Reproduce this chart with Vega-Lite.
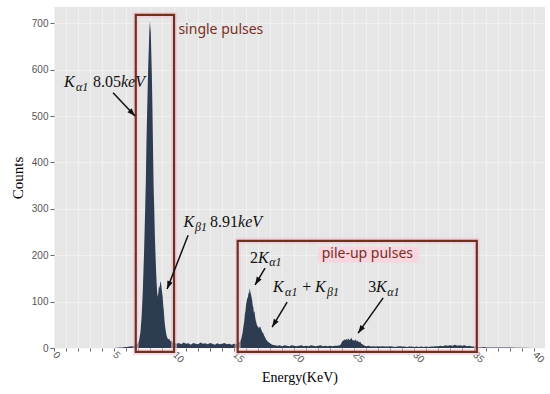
{
 "$schema": "https://vega.github.io/schema/vega-lite/v6.json",
 "width": 491, "height": 341,
 "autosize": {"type": "none"},
 "padding": {"left": 54, "top": 7, "right": 5, "bottom": 46},
 "background": "white",
 "config": {"view": {"fill": "#e6e6e6", "stroke": null}},
 "datasets": {
  "spectrum": [
   {"e":5.0,"c":0},{"e":5.5,"c":1},{"e":5.7,"c":1},{"e":5.9,"c":2},{"e":6.1,"c":2},{"e":6.3,"c":3},{"e":6.5,"c":4},{"e":6.6,"c":3},{"e":6.7,"c":6},{"e":6.8,"c":5},{"e":6.9,"c":8},
   {"e":7.0,"c":11},{"e":7.1,"c":18},{"e":7.2,"c":34},{"e":7.3,"c":68},{"e":7.4,"c":125},{"e":7.5,"c":205},{"e":7.6,"c":305},{"e":7.65,"c":360},{"e":7.7,"c":440},{"e":7.75,"c":500},{"e":7.8,"c":555},{"e":7.85,"c":610},{"e":7.9,"c":648},{"e":7.95,"c":690},{"e":8.0,"c":706},{"e":8.03,"c":680},{"e":8.05,"c":695},{"e":8.1,"c":640},{"e":8.15,"c":590},{"e":8.2,"c":515},{"e":8.25,"c":430},{"e":8.3,"c":345},{"e":8.35,"c":300},{"e":8.4,"c":245},{"e":8.45,"c":205},{"e":8.5,"c":168},{"e":8.55,"c":140},{"e":8.6,"c":118},{"e":8.65,"c":110},{"e":8.7,"c":122},{"e":8.75,"c":135},{"e":8.8,"c":128},{"e":8.85,"c":140},{"e":8.9,"c":144},{"e":8.95,"c":132},{"e":9.0,"c":122},{"e":9.05,"c":110},{"e":9.1,"c":92},{"e":9.15,"c":80},{"e":9.2,"c":60},{"e":9.25,"c":48},{"e":9.3,"c":38},{"e":9.35,"c":30},{"e":9.4,"c":25},{"e":9.5,"c":19},{"e":9.6,"c":20},{"e":9.7,"c":14},{"e":9.8,"c":16},{"e":9.9,"c":11},{"e":10.0,"c":12},
   {"e":10.2,"c":9},{"e":10.4,"c":11},{"e":10.6,"c":8},{"e":10.8,"c":12},{"e":11.0,"c":9},{"e":11.2,"c":10},{"e":11.4,"c":7},{"e":11.6,"c":11},{"e":11.8,"c":9},{"e":12.0,"c":8},{"e":12.2,"c":12},{"e":12.4,"c":9},{"e":12.6,"c":10},{"e":12.8,"c":8},{"e":13.0,"c":11},{"e":13.2,"c":9},{"e":13.4,"c":7},{"e":13.6,"c":10},{"e":13.8,"c":8},{"e":14.0,"c":9},{"e":14.2,"c":11},{"e":14.4,"c":8},{"e":14.6,"c":9},{"e":14.8,"c":7},{"e":15.0,"c":9},{"e":15.2,"c":8},{"e":15.3,"c":10},
   {"e":15.4,"c":12},{"e":15.5,"c":14},{"e":15.6,"c":20},{"e":15.7,"c":32},{"e":15.8,"c":50},{"e":15.85,"c":58},{"e":15.9,"c":74},{"e":15.95,"c":80},{"e":16.0,"c":94},{"e":16.05,"c":100},{"e":16.1,"c":110},{"e":16.15,"c":106},{"e":16.2,"c":120},{"e":16.25,"c":116},{"e":16.3,"c":129},{"e":16.35,"c":122},{"e":16.4,"c":117},{"e":16.45,"c":110},{"e":16.5,"c":104},{"e":16.55,"c":92},{"e":16.6,"c":88},{"e":16.65,"c":76},{"e":16.7,"c":80},{"e":16.75,"c":68},{"e":16.8,"c":60},{"e":16.85,"c":55},{"e":16.9,"c":50},{"e":16.95,"c":46},{"e":17.0,"c":48},{"e":17.05,"c":42},{"e":17.1,"c":45},{"e":17.15,"c":44},{"e":17.2,"c":46},{"e":17.25,"c":40},{"e":17.3,"c":38},{"e":17.35,"c":33},{"e":17.4,"c":34},{"e":17.5,"c":27},{"e":17.6,"c":22},{"e":17.7,"c":17},{"e":17.8,"c":14},{"e":17.9,"c":12},{"e":18.0,"c":10},{"e":18.1,"c":8},
   {"e":18.2,"c":7},{"e":18.4,"c":6},{"e":18.6,"c":5},{"e":18.8,"c":6},{"e":19.0,"c":4},{"e":19.2,"c":6},{"e":19.4,"c":5},{"e":19.6,"c":4},{"e":19.8,"c":6},{"e":20.0,"c":5},{"e":20.2,"c":4},{"e":20.4,"c":5},{"e":20.6,"c":6},{"e":20.8,"c":4},{"e":21.0,"c":5},{"e":21.2,"c":4},{"e":21.4,"c":6},{"e":21.6,"c":5},{"e":21.8,"c":4},{"e":22.0,"c":5},{"e":22.2,"c":6},{"e":22.4,"c":4},{"e":22.6,"c":5},{"e":22.8,"c":4},{"e":23.0,"c":5},{"e":23.2,"c":4},{"e":23.4,"c":5},{"e":23.6,"c":5},{"e":23.8,"c":6},
   {"e":23.9,"c":8},{"e":24.0,"c":14},{"e":24.1,"c":17},{"e":24.15,"c":15},{"e":24.2,"c":19},{"e":24.3,"c":17},{"e":24.4,"c":20},{"e":24.45,"c":16},{"e":24.5,"c":21},{"e":24.6,"c":17},{"e":24.7,"c":19},{"e":24.8,"c":22},{"e":24.85,"c":16},{"e":24.9,"c":18},{"e":25.0,"c":15},{"e":25.1,"c":19},{"e":25.2,"c":14},{"e":25.3,"c":16},{"e":25.4,"c":12},{"e":25.5,"c":14},{"e":25.6,"c":9},{"e":25.7,"c":8},{"e":25.8,"c":6},{"e":25.9,"c":5},
   {"e":26.0,"c":4},{"e":26.2,"c":5},{"e":26.4,"c":3},{"e":26.6,"c":4},{"e":26.8,"c":3},{"e":27.0,"c":4},{"e":27.2,"c":3},{"e":27.4,"c":4},{"e":27.6,"c":3},{"e":27.8,"c":3},{"e":28.0,"c":4},{"e":28.2,"c":3},{"e":28.4,"c":2},{"e":28.6,"c":3},{"e":28.8,"c":4},{"e":29.0,"c":3},{"e":29.2,"c":3},{"e":29.4,"c":2},{"e":29.6,"c":3},{"e":29.8,"c":3},{"e":30.0,"c":2},{"e":30.2,"c":3},{"e":30.4,"c":2},{"e":30.6,"c":3},{"e":30.8,"c":2},{"e":31.0,"c":3},{"e":31.2,"c":2},{"e":31.4,"c":3},{"e":31.6,"c":3},{"e":31.8,"c":4},{"e":32.0,"c":4},{"e":32.2,"c":5},{"e":32.4,"c":4},{"e":32.6,"c":6},{"e":32.8,"c":5},{"e":33.0,"c":6},{"e":33.2,"c":5},{"e":33.4,"c":7},{"e":33.6,"c":5},{"e":33.8,"c":6},{"e":34.0,"c":5},{"e":34.2,"c":6},{"e":34.4,"c":4},{"e":34.6,"c":5},{"e":34.8,"c":3},{"e":35.0,"c":3},{"e":35.2,"c":2},{"e":35.4,"c":2},{"e":35.6,"c":1},{"e":35.8,"c":2},{"e":36.0,"c":1},{"e":36.5,"c":1},{"e":37.0,"c":1},{"e":37.5,"c":1},{"e":38.0,"c":1},{"e":38.5,"c":0.5},{"e":39.0,"c":0.5},{"e":40.0,"c":0}
  ],
  "boxes": [
   {"e":6.81,"e2":10.0,"c":-8.5,"c2":718},
   {"e":15.3,"e2":35.22,"c":-8.5,"c2":231}
  ],
  "highlight": [
   {"e":22.0,"e2":30.4,"c":184,"c2":218}
  ],
  "labels": [
   {"e":13.9,"c":685,"t":"single pulses"},
   {"e":26.1,"c":202,"t":"pile-up pulses"}
  ],
  "arrows": [
   {"e":6.75,"c":500,"e2":4.92,"c2":550},
   {"e":9.42,"c":127,"e2":11.17,"c2":243},
   {"e":16.75,"c":136,"e2":17.58,"c2":172},
   {"e":18.17,"c":45,"e2":19.42,"c2":99},
   {"e":25.33,"c":32,"e2":27.42,"c2":108}
  ],
  "mathItalic": [
   {"e":0.83,"c":562,"t":"K"},
   {"e":5.58,"c":562,"t":"keV"},
   {"e":10.78,"c":260,"t":"K"},
   {"e":15.33,"c":260,"t":"keV"},
   {"e":17.0,"c":183,"t":"K"},
   {"e":18.25,"c":121,"t":"K"},
   {"e":21.75,"c":121,"t":"K"},
   {"e":26.83,"c":121,"t":"K"}
  ],
  "mathSub": [
   {"e":1.83,"c":554,"t":"α1"},
   {"e":11.75,"c":252,"t":"β1"},
   {"e":17.92,"c":176,"t":"α1"},
   {"e":19.25,"c":112,"t":"α1"},
   {"e":22.75,"c":112,"t":"β1"},
   {"e":27.75,"c":112,"t":"α1"}
  ],
  "mathUpright": [
   {"e":3.25,"c":562,"t":"8.05"},
   {"e":13.0,"c":260,"t":"8.91"},
   {"e":16.33,"c":183,"t":"2"},
   {"e":20.67,"c":121,"t":"+"},
   {"e":26.17,"c":121,"t":"3"}
  ]
 },
 "encoding": {
  "x": {"field": "e", "type": "quantitative",
   "scale": {"domain": [0, 40.9], "nice": false, "zero": false},
   "axis": {"title": "Energy(KeV)",
    "values": [0,1,2,3,4,5,6,7,8,9,10,11,12,13,14,15,16,17,18,19,20,21,22,23,24,25,26,27,28,29,30,31,32,33,34,35,36,37,38,39,40],
    "labelExpr": "datum.value % 5 === 0 ? datum.label : ''",
    "labelOverlap": false, "labelAngle": 45, "labelAlign": "left", "labelBaseline": "middle",
    "labelColor": "#555555", "labelFont": "Liberation Sans", "labelFontSize": 10, "labelPadding": 2,
    "domain": false, "tickColor": "#666666", "tickSize": 3,
    "grid": true, "gridColor": "#f3f3f3", "gridWidth": 0.8,
    "titleFont": "Liberation Serif", "titleFontSize": 14, "titleFontWeight": "normal", "titleColor": "#000000", "titlePadding": 6}},
  "y": {"field": "c", "type": "quantitative",
   "scale": {"domain": [0, 735], "nice": false, "zero": false},
   "axis": {"title": "Counts", "values": [0,100,200,300,400,500,600,700],
    "labelColor": "#555555", "labelFont": "Liberation Sans", "labelFontSize": 10, "labelPadding": 2,
    "domain": false, "tickColor": "#666666", "tickSize": 4,
    "grid": true, "gridColor": "#f3f3f3", "gridWidth": 0.8,
    "titleFont": "Liberation Serif", "titleFontSize": 15, "titleFontWeight": "normal", "titleColor": "#000000", "titlePadding": 6}}
 },
 "layer": [
  {"data": {"name": "spectrum"}, "mark": {"type": "area", "color": "#2e3c52", "interpolate": "linear"}},
  {"data": {"name": "highlight"}, "mark": {"type": "rect", "color": "#f7d6df"},
   "encoding": {"x2": {"field": "e2"}, "y2": {"field": "c2"}}},
  {"data": {"name": "boxes"}, "mark": {"type": "rect", "filled": false, "stroke": "#f4c3d2", "strokeWidth": 6, "strokeOpacity": 0.6},
   "encoding": {"x2": {"field": "e2"}, "y2": {"field": "c2"}}},
  {"data": {"name": "boxes"}, "mark": {"type": "rect", "filled": false, "stroke": "#6b3220", "strokeWidth": 2.2},
   "encoding": {"x2": {"field": "e2"}, "y2": {"field": "c2"}}},
  {"data": {"name": "labels"}, "mark": {"type": "text", "font": "Noto Sans", "fontSize": 14, "color": "#7a2e1f", "align": "center", "baseline": "middle"},
   "encoding": {"text": {"field": "t"}}},
  {"data": {"name": "arrows"}, "mark": {"type": "rule", "color": "#111111", "strokeWidth": 1.5},
   "encoding": {"x2": {"field": "e2"}, "y2": {"field": "c2"}}},
  {"data": {"name": "arrows"},
   "transform": [{"calculate": "atan2((datum.e - datum.e2) * 12.005, (datum.c - datum.c2) * 0.4639) * 180 / PI", "as": "ang"}],
   "mark": {"type": "point", "shape": "M0,0L-0.35,1L0.35,1Z", "filled": true, "color": "#111111", "size": 256, "opacity": 1},
   "encoding": {"angle": {"field": "ang", "type": "quantitative", "scale": null}}},
  {"data": {"name": "mathItalic"}, "mark": {"type": "text", "font": "Liberation Serif", "fontStyle": "italic", "fontSize": 16, "color": "#111111", "align": "left", "baseline": "alphabetic"},
   "encoding": {"text": {"field": "t"}}},
  {"data": {"name": "mathSub"}, "mark": {"type": "text", "font": "Liberation Serif", "fontStyle": "italic", "fontSize": 12, "color": "#111111", "align": "left", "baseline": "alphabetic"},
   "encoding": {"text": {"field": "t"}}},
  {"data": {"name": "mathUpright"}, "mark": {"type": "text", "font": "Liberation Serif", "fontSize": 16, "color": "#111111", "align": "left", "baseline": "alphabetic"},
   "encoding": {"text": {"field": "t"}}}
 ]
}
